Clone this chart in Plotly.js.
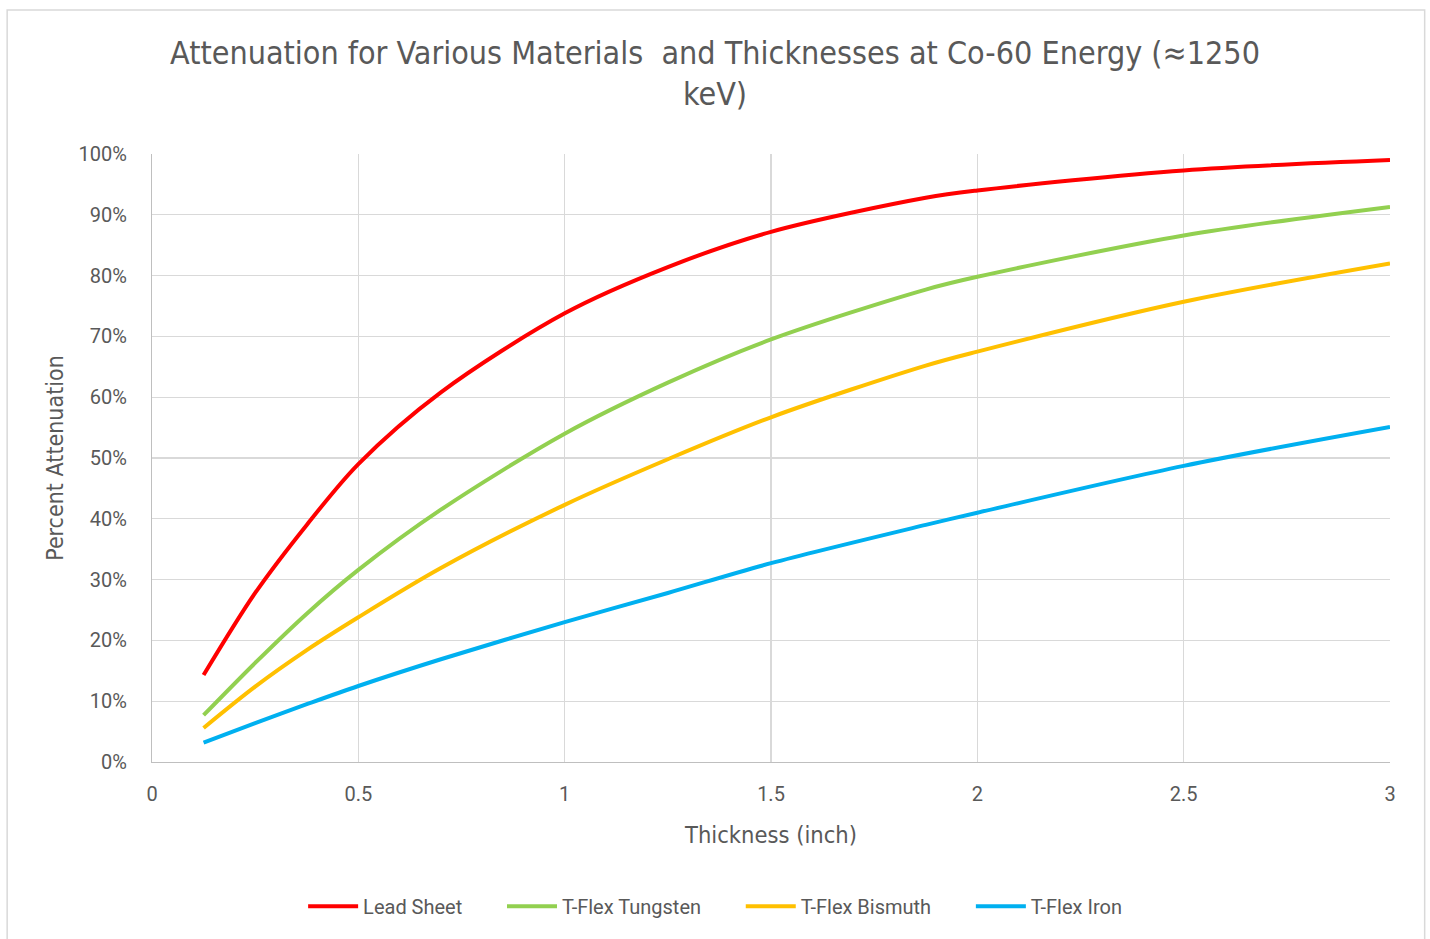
<!DOCTYPE html>
<html>
<head>
<meta charset="utf-8">
<script src="https://cdn.plot.ly/plotly-3.0.1.min.js"></script>
<style>
html,body{margin:0;padding:0;background:#fff;}
#chart{width:1430px;height:939px;}
#chart .gtitle, #chart .g-xtitle text, #chart .g-ytitle text { font-stretch: condensed !important; }
</style>
</head>
<body>
<div id="chart"></div>
<script>
const thickness = [0.125, 0.25, 0.375, 0.5, 0.7, 1, 1.25, 1.5, 1.875, 2, 2.5, 3];
const leadSheet = [14.3, 27.8, 39.0, 49.0, 60.8, 73.8, 81.4, 87.2, 92.8, 94.0, 97.3, 99.0];
const tflexTungsten = [7.7, 16.3, 24.4, 31.6, 41.5, 54.0, 62.4, 69.5, 77.7, 79.8, 86.6, 91.3];
const tflexBismuth = [5.6, 12.4, 18.4, 23.8, 31.9, 42.3, 49.8, 56.7, 65.2, 67.5, 75.7, 82.0];
const tflexIron = [3.2, 6.4, 9.5, 12.5, 16.9, 23.0, 27.8, 32.7, 39.0, 41.0, 48.7, 55.1];
const seriesNames = ["Lead Sheet", "T-Flex Tungsten", "T-Flex Bismuth", "T-Flex Iron"];
const seriesColors = ["#ff0000", "#92d050", "#ffc000", "#00b0f0"];
const xTicks = [0, 0.5, 1, 1.5, 2, 2.5, 3];
const xTickLabels = ["0", "0.5", "1", "1.5", "2", "2.5", "3"];
const yTicks = [0, 10, 20, 30, 40, 50, 60, 70, 80, 90, 100];
const yTickLabels = ["0%", "10%", "20%", "30%", "40%", "50%", "60%", "70%", "80%", "90%", "100%"];

const TFONT = '"DejaVu Sans Condensed", "Liberation Sans Narrow", "DejaVu Sans", sans-serif';
const FONT = 'Roboto, "DejaVu Sans", sans-serif';
const allY = [leadSheet, tflexTungsten, tflexBismuth, tflexIron];
const pad = '\u00a0\u00a0\u00a0\u00a0\u00a0\u00a0\u00a0';
const traces = allY.map((ys, i) => ({
  type: 'scatter', mode: 'lines', x: thickness, y: ys, name: seriesNames[i] + pad,
  line: {color: seriesColors[i], width: 4, shape: 'spline', smoothing: 0.9}
}));

const layout = {
  width: 1430, height: 939,
  margin: {l: 152, r: 40, t: 154, b: 177},
  paper_bgcolor: '#ffffff', plot_bgcolor: '#ffffff',
  font: {family: FONT, color: '#595959', size: 20},
  title: {text: 'Attenuation for Various Materials  and Thicknesses at Co-60 Energy (≈1250<br>keV)',
          font: {family: TFONT, size: 32, color: '#595959'}, x: 0.5, xanchor: 'center', y: 0.932, yanchor: 'top'},
  xaxis: {range: [0, 3], tickvals: xTicks, ticktext: xTickLabels, showgrid: true, gridcolor: '#d9d9d9', gridwidth: 1.2,
          zeroline: false, showline: true, linecolor: '#bfbfbf', linewidth: 1.2, ticks: '', ticklen: 0, ticklabelstandoff: 14,
          tickfont: {size: 20, color: '#595959'}, title: {text: 'Thickness (inch)', font: {family: TFONT, size: 23.5, color: '#595959'}, standoff: 21}},
  yaxis: {range: [0, 100], tickvals: yTicks, ticktext: yTickLabels, showgrid: true, gridcolor: '#d9d9d9', gridwidth: 1.2,
          zeroline: false, showline: true, linecolor: '#bfbfbf', linewidth: 1.2, ticks: '', ticklen: 0, ticklabelstandoff: 20,
          tickfont: {size: 20, color: '#595959'}, title: {text: 'Percent Attenuation', font: {family: TFONT, size: 23, color: '#595959'}, standoff: 8}},
  showlegend: true,
  legend: {orientation: 'h', x: 0.469, xanchor: 'center', y: -0.205, yanchor: 'top', font: {size: 20, color: '#595959'},
           itemwidth: 50, tracegroupgap: 0},
  shapes: [{type: 'rect', xref: 'paper', yref: 'paper', x0: -0.117, x1: 1.028, y0: -0.4, y1: 1.237,
            line: {color: '#d9d9d9', width: 1.5}, fillcolor: 'rgba(0,0,0,0)', layer: 'below'}]
};
Plotly.newPlot('chart', traces, layout, {displayModeBar: false, staticPlot: true});
</script>
</body>
</html>
